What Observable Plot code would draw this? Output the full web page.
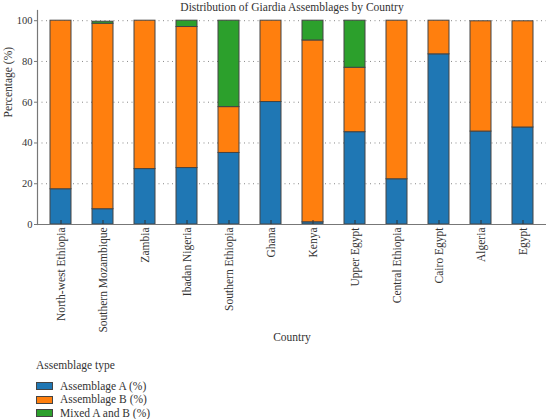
<!DOCTYPE html>
<html><head><meta charset="utf-8">
<script src="https://cdn.jsdelivr.net/npm/d3@7"></script>
<script src="https://cdn.jsdelivr.net/npm/@observablehq/plot@0.6"></script>
<style>
body{margin:0;background:#fff;font-family:"Liberation Serif","DejaVu Serif",serif;}
#wrap{position:relative;width:546px;height:419px;overflow:hidden;background:#fff;}
#legend{position:absolute;left:36px;top:359px;font-size:11.5px;color:#333;line-height:13.5px;}
#legend .ttl{margin-bottom:7px;}
#legend .item{display:flex;align-items:center;height:13.5px;}
#legend .sw{width:15px;height:6px;border:1px solid #444;margin-right:7px;}
</style></head><body><div id="wrap"></div>
<script>
const countries = ["North-west Ethiopia","Southern Mozambique","Zambia","Ibadan Nigeria","Southern Ethiopia","Ghana","Kenya","Upper Egypt","Central Ethiopia","Cairo Egypt","Algeria","Egypt"];
const assemblageA = [17.3, 7.5, 27.2, 27.7, 35.1, 60.1, 1.1, 45.3, 22.2, 83.5, 45.6, 47.6];
const assemblageB = [82.7, 91.0, 72.8, 69.2, 22.5, 39.9, 89.2, 31.6, 77.8, 16.5, 54.1, 52.1];
const mixedAB     = [0, 1.0, 0, 3.1, 42.4, 0, 9.7, 23.1, 0, 0, 0, 0];
const seriesNames = ["Assemblage A (%)", "Assemblage B (%)", "Mixed A and B (%)"];
const seriesColors = ["#1f77b4", "#ff7f0e", "#2ca02c"];
const yTicks = [0, 20, 40, 60, 80, 100];
const titleText = "Distribution of Giardia Assemblages by Country";
const xLabel = "Country";
const yLabel = "Percentage (%)";
const legendTitle = "Assemblage type";

const seriesValues = [assemblageA, assemblageB, mixedAB];
const data = [];
countries.forEach((c, i) => {
  seriesValues.forEach((arr, j) => data.push({country: c, type: seriesNames[j], value: arr[i]}));
});

const chart = Plot.plot({
  width: 546, height: 350,
  marginLeft: 37, marginRight: 0, marginTop: 10, marginBottom: 126,
  style: {fontFamily: "'Liberation Serif', 'DejaVu Serif', serif", fontSize: "11px", color: "#333", background: "white"},
  x: {domain: countries, paddingInner: 0.5, paddingOuter: 0.25, label: null},
  y: {domain: [0, 105], label: null},
  color: {domain: seriesNames, range: seriesColors},
  marks: [
    Plot.gridY(yTicks, {stroke: "#888", strokeOpacity: 1, strokeDasharray: "1,3.5", strokeWidth: 1}),
    Plot.barY(data, {x: "country", y: "value", fill: "type", stroke: "#444", strokeWidth: 1}),
    Plot.ruleY([0], {stroke: "#777", strokeWidth: 1.2}),
    Plot.frame({anchor: "left", stroke: "#777", strokeWidth: 1.2}),
    Plot.axisY(yTicks, {tickSize: 3, tickPadding: 2, fontSize: 10.5, label: null, stroke: "#777"}),
    Plot.axisX({tickSize: -4, tickPadding: 7, tickRotate: -90, label: null, fontSize: 11.5, stroke: "#333"}),
    Plot.text([titleText], {frameAnchor: "top", dy: -8, fontSize: 11.5, fill: "#333"}),
    Plot.text([yLabel], {frameAnchor: "left", rotate: -90, dx: -29, fontSize: 11.5, fill: "#333"}),
    Plot.text([xLabel], {frameAnchor: "bottom", dy: 116, fontSize: 11.5, fill: "#333"})
  ]
});
const wrap = document.getElementById("wrap");
wrap.appendChild(chart);

const legend = document.createElement("div");
legend.id = "legend";
let html = `<div class="ttl">${legendTitle}</div>`;
seriesNames.forEach((n, j) => {
  html += `<div class="item"><span class="sw" style="background:${seriesColors[j]}"></span>${n}</div>`;
});
legend.innerHTML = html;
wrap.appendChild(legend);
</script>
</body></html>
